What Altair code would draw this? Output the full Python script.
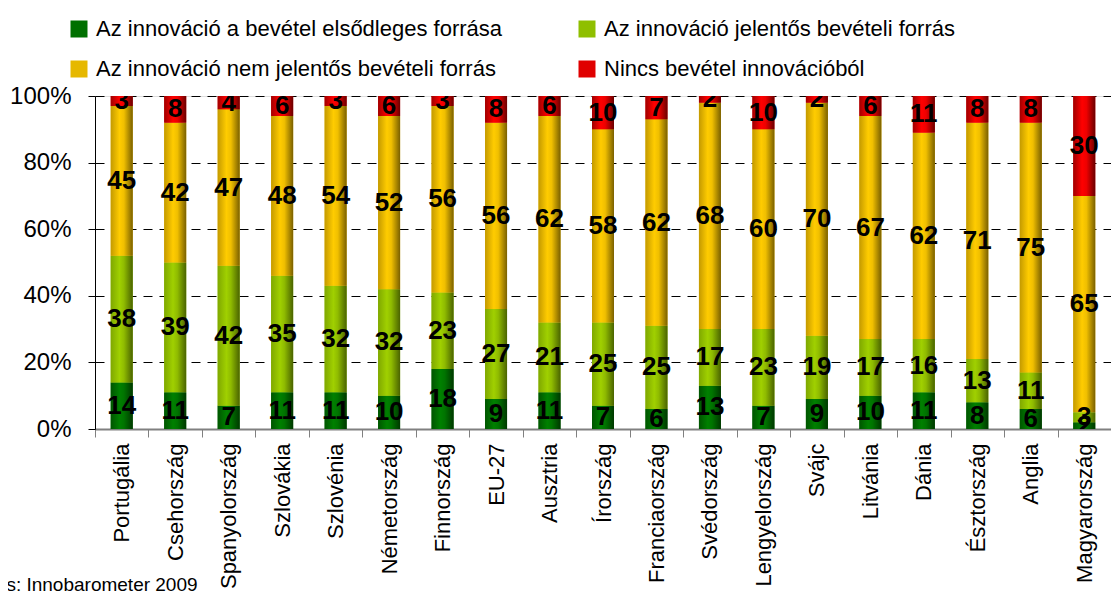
import altair as alt
import pandas as pd

countries = ["Portugália", "Csehország", "Spanyolország", "Szlovákia", "Szlovénia",
             "Németország", "Finnország", "EU-27", "Ausztria", "Írország",
             "Franciaország", "Svédország", "Lengyelország", "Svájc", "Litvánia",
             "Dánia", "Észtország", "Anglia", "Magyarország"]
primary = [14, 11, 7, 11, 11, 10, 18, 9, 11, 7, 6, 13, 7, 9, 10, 11, 8, 6, 2]
significant = [38, 39, 42, 35, 32, 32, 23, 27, 21, 25, 25, 17, 23, 19, 17, 16, 13, 11, 3]
not_significant = [45, 42, 47, 48, 54, 52, 56, 56, 62, 58, 62, 68, 60, 70, 67, 62, 71, 75, 65]
no_income = [3, 8, 4, 6, 3, 6, 3, 8, 6, 10, 7, 2, 10, 2, 6, 11, 8, 8, 30]
series_names = ["Az innováció a bevétel elsődleges forrása",
                "Az innováció  jelentős bevételi forrás",
                "Az innováció nem jelentős bevételi forrás",
                "Nincs bevétel innovációból"]
y_ticks = [0, 20, 40, 60, 80, 100]
source_text = "Forrás: Innobarometer 2009"

solid_colors = ["#007000", "#8fbf00", "#e6b800", "#e00000"]
gradients = [
    ["#005500", "#008000", "#007400", "#003800"],
    ["#7fa800", "#a0d000", "#8fbb00", "#4a6300"],
    ["#c49a00", "#ffcc00", "#f0bf00", "#7a6000"],
    ["#a00000", "#ff0000", "#ee0000", "#6a0000"],
]

rows = []
for si, vals in enumerate([primary, significant, not_significant, no_income]):
    for ci, c in enumerate(countries):
        rows.append({"country": c, "series": series_names[si], "order": si, "value": vals[ci]})
df = pd.DataFrame(rows)

FONT = "Liberation Sans, Arial, sans-serif"

x_axis = alt.Axis(title=None, labelAngle=270, labelFont=FONT, labelFontSize=22,
                  labelColor="#000000", tickBand="extent", tickSize=8,
                  tickColor="#808080", domainColor="#808080", domainWidth=2,
                  labelPadding=6, labelLimit=300, grid=False)
y_axis = alt.Axis(values=y_ticks, labelExpr="datum.value + '%'", title=None,
                  labelFont=FONT, labelFontSize=24, labelColor="#000000",
                  tickSize=7, tickColor="#000000", domainColor="#000000",
                  labelPadding=17, grid=True, gridColor="#000000",
                  gridDash=[9, 7], gridWidth=1)
x_scale = alt.Scale(paddingInner=0, paddingOuter=0)
y_scale = alt.Scale(domain=[0, 100], nice=False, zero=True)

def xe():
    return alt.X("country:N", sort=countries, scale=x_scale, axis=x_axis)

def ye(field):
    return alt.Y(field, scale=y_scale, axis=y_axis)

base = alt.Chart(df).transform_stack(
    stack="value", groupby=["country"], as_=["y0", "y1"],
    sort=[alt.SortField("order", order="ascending")])

main = base.mark_bar(size=22).encode(
    x=xe(),
    y=ye("y0:Q"),
    y2="y1:Q",
    color=alt.Color("series:N", sort=series_names,
                    scale=alt.Scale(domain=series_names, range=solid_colors),
                    legend=alt.Legend(title=None, orient="none", legendX=-27, legendY=-78,
                                      direction="horizontal", columns=2,
                                      columnPadding=73, rowPadding=18,
                                      labelFont=FONT, labelFontSize=22,
                                      labelColor="#000000", symbolType="square",
                                      symbolSize=289, symbolStrokeWidth=0,
                                      labelOffset=6, padding=0, labelLimit=600)),
)

overlays = []
for si, s in enumerate(series_names):
    g = gradients[si]
    grad = alt.Gradient(gradient="linear", x1=0, x2=1, y1=0, y2=0,
                        stops=[alt.GradientStop(color=g[0], offset=0),
                               alt.GradientStop(color=g[1], offset=0.4),
                               alt.GradientStop(color=g[2], offset=0.6),
                               alt.GradientStop(color=g[3], offset=1)])
    overlays.append(
        base.transform_filter(alt.datum.series == s).mark_bar(size=22, color=grad).encode(
            x=xe(), y=ye("y0:Q"), y2="y1:Q"))

labels = base.transform_calculate(mid="(datum.y0 + datum.y1) / 2").mark_text(
    font=FONT, fontSize=26, fontWeight="bold", color="#000000", clip=True,
    baseline="middle", align="center").encode(
    x=xe(), y=ye("mid:Q"), text="value:Q")

source = alt.Chart(pd.DataFrame({"t": [source_text]})).mark_text(
    font=FONT, fontSize=19, align="left", baseline="alphabetic", color="#000000").encode(
    text="t:N", x=alt.value(-134), y=alt.value(495))

chart = alt.layer(main, *overlays, labels, source).properties(
    width=1016, height=333,
    padding={"left": 87, "top": 88, "right": 0, "bottom": 164},
    autosize=alt.AutoSizeParams(type="none"),
).configure_view(stroke=None).configure(background="#ffffff")

chart.save("out.html", embed_options={"renderer": "svg", "actions": False})
